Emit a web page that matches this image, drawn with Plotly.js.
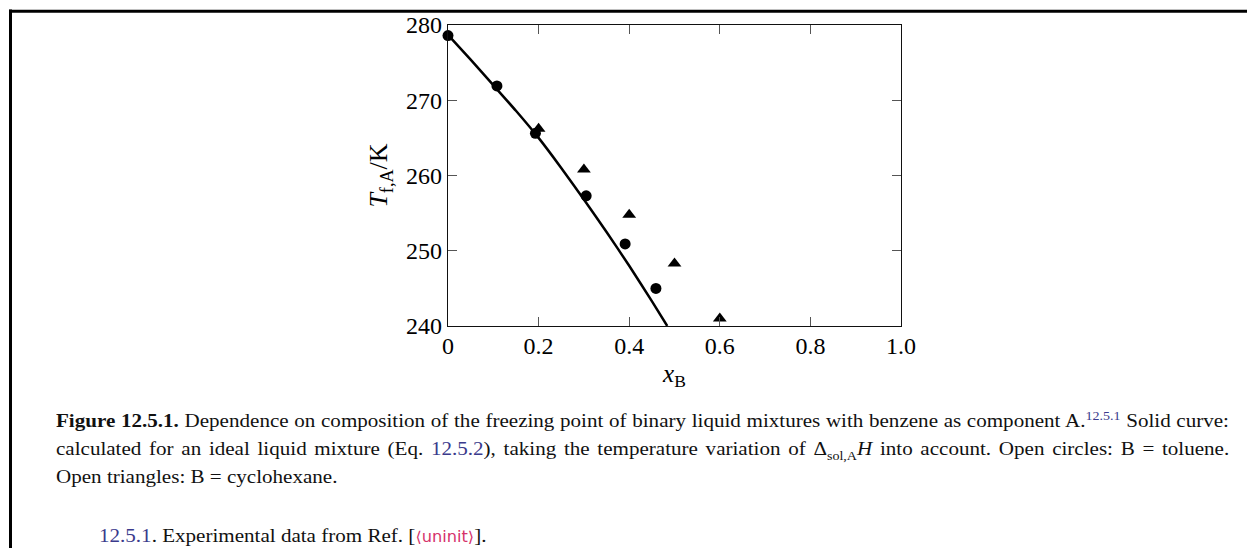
<!DOCTYPE html>
<html>
<head>
<meta charset="utf-8">
<script src="https://cdn.plot.ly/plotly-3.0.1.min.js"></script>
<style>
  html, body { margin: 0; padding: 0; background: #fff; }
  #wrap { position: relative; width: 1247px; height: 548px; overflow: hidden; }
  #chart { position: absolute; left: 0; top: 0; width: 1247px; height: 548px; }
  .cap { position: absolute; font-family: "Liberation Serif", "Times New Roman", serif; font-size: 19.5px; line-height: 20px; color: #111; white-space: nowrap; transform-origin: 0 50%; transform: scaleX(1.08); }
  .lnk { color: #3a3a8c; }
  .un { color: #d6336c; font-family: "DejaVu Sans", sans-serif; font-size: 15px; }
  sup, sub { line-height: 0; }
</style>
</head>
<body>
<div id="wrap">
  <div id="chart"></div>
  <div class="cap fit" data-w="1173" style="left:56px; top:411px;"><b>Figure 12.5.1.</b> Dependence on composition of the freezing point of binary liquid mixtures with benzene as component A.<sup class="lnk" style="font-size:13px;">12.5.1</sup> Solid curve:</div>
  <div class="cap fit" data-w="1173" style="left:56px; top:439px;">calculated for an ideal liquid mixture (Eq. <span class="lnk">12.5.2</span>), taking the temperature variation of Δ<sub style="font-size:13px;">sol,A</sub><i>H</i> into account. Open circles: B = toluene.</div>
  <div class="cap" style="left:56px; top:467px;">Open triangles: B = cyclohexane.</div>
  <div class="cap" style="left:99px; top:526px;"><span class="lnk">12.5.1</span>. Experimental data from Ref. [<span class="un">⟨uninit⟩</span>].</div>
</div>
<script>
// Ideal-solution freezing curve
const curveX = [0, 0.05, 0.10, 0.15, 0.20, 0.25, 0.30, 0.35, 0.40, 0.45, 0.484];
const curveT = [278.7, 275.4, 272.0, 268.6, 265.0, 261.0, 256.8, 252.5, 248.0, 243.3, 240.0];
// B = toluene (circles)
const tolX = [0, 0.108, 0.193, 0.305, 0.391, 0.459];
const tolT = [278.6, 271.9, 265.6, 257.3, 250.9, 245.0];
// B = cyclohexane (triangles)
const cyX = [0.2, 0.3, 0.4, 0.5, 0.6];
const cyT = [266.2, 260.8, 254.8, 248.3, 241.0];
// Ticks
const xTickVals = [0, 0.2, 0.4, 0.6, 0.8, 1.0];
const xTickText = ["0", "0.2", "0.4", "0.6", "0.8", "1.0"];
const yTickVals = [240, 250, 260, 270, 280];
const yTickText = ["240", "250", "260", "270", "280"];

const W = 1247, H = 548;
const px = (x) => x / W;
const py = (y) => 1 - y / H;

const serif = "Liberation Serif, Times New Roman, serif";

const traces = [
  { x: curveX, y: curveT, mode: "lines", type: "scatter",
    line: { color: "#000", width: 2.5, shape: "spline", smoothing: 0.6 }, hoverinfo: "none", cliponaxis: true },
  { x: tolX, y: tolT, mode: "markers", type: "scatter",
    marker: { symbol: "circle", size: 11, color: "#000" }, cliponaxis: false },
  { x: cyX, y: cyT, mode: "markers", type: "scatter",
    marker: { symbol: "triangle-up", size: 12, color: "#000" }, cliponaxis: false }
];

const axisCommon = {
  showgrid: false, zeroline: false, showline: true, linecolor: "#111", linewidth: 1.3,
  mirror: "ticks", ticks: "inside", ticklen: 9, tickwidth: 1.2, tickcolor: "#555",
  tickfont: { family: serif, size: 24, color: "#000" }
};

const layout = {
  width: W, height: H,
  margin: { l: 0, r: 0, t: 0, b: 0, pad: 0 },
  paper_bgcolor: "rgba(0,0,0,0)", plot_bgcolor: "rgba(0,0,0,0)",
  showlegend: false,
  xaxis: Object.assign({}, axisCommon, {
    domain: [px(448), px(901)], range: [0, 1], anchor: "y",
    tickmode: "array", tickvals: xTickVals, ticktext: xTickText, ticklabelstandoff: -2,
    title: { text: "<i>x</i><sub>B</sub>", font: { family: serif, size: 25, color: "#000" }, standoff: 6 }
  }),
  yaxis: Object.assign({}, axisCommon, {
    domain: [py(326), py(25)], range: [240, 280], anchor: "x",
    tickmode: "array", tickvals: yTickVals, ticktext: yTickText, ticklabelstandoff: 0,
    title: { text: "<i>T</i><sub>f,A</sub>/K", font: { family: serif, size: 26, color: "#000" }, standoff: 10 }
  }),
  shapes: [
    { type: "line", xref: "paper", yref: "paper", x0: px(10.5), x1: px(10.5), y0: py(9.5), y1: py(560), line: { color: "#000", width: 3 } },
    { type: "line", xref: "paper", yref: "paper", x0: px(9), x1: px(1260), y0: py(11.3), y1: py(11.3), line: { color: "#000", width: 3 } }
  ]
};

Plotly.newPlot("chart", traces, layout, { staticPlot: true, displayModeBar: false });

// Justify the first two caption lines to the reference width by adjusting word spacing
document.querySelectorAll(".fit").forEach(function (el) {
  const target = parseFloat(el.getAttribute("data-w")) / 1.08;
  const natural = el.scrollWidth;
  const spaces = (el.textContent.match(/ /g) || []).length;
  if (spaces > 0) el.style.wordSpacing = ((target - natural) / spaces) + "px";
});
</script>
</body>
</html>
